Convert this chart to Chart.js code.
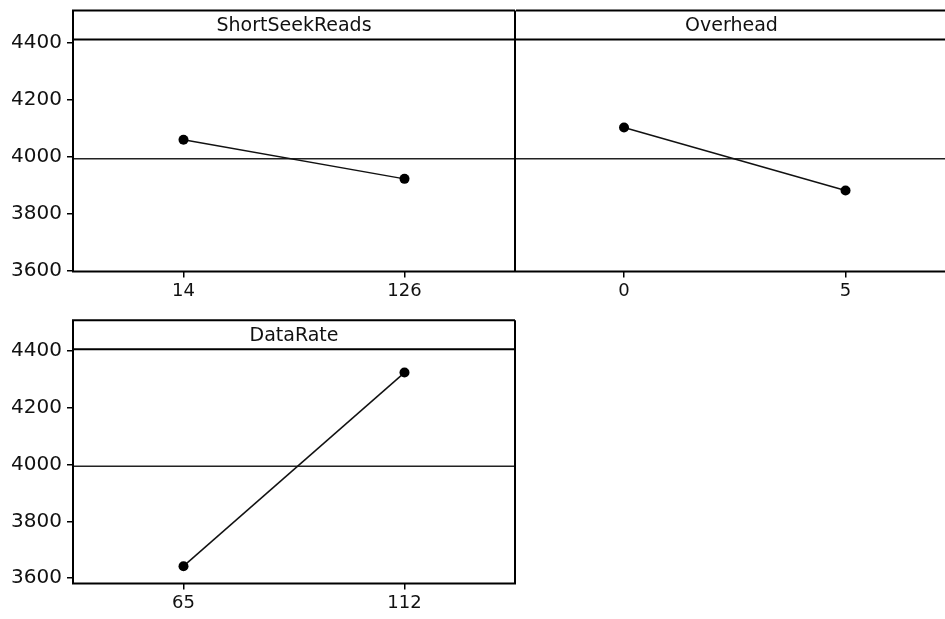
<!DOCTYPE html>
<html>
<head>
<meta charset="utf-8">
<script src="https://cdn.jsdelivr.net/npm/chart.js@4/dist/chart.umd.min.js"></script>
<style>
  body { margin: 0; background: #fff; overflow: hidden; }
  #wrap { position: relative; width: 945px; height: 619px; overflow: hidden; }
  canvas { position: absolute; }
</style>
</head>
<body>
<div id="wrap">
  <canvas id="c1" width="520" height="310" style="left:0;top:0"></canvas>
  <canvas id="c2" width="445" height="310" style="left:510px;top:0"></canvas>
  <canvas id="c3" width="520" height="329" style="left:0;top:290px"></canvas>
</div>
<script>
// Main effects data (means per factor level)
const shortSeekLevels = ['14', '126'];
const shortSeekMeans = [4060, 3923];
const overheadLevels = ['0', '5'];
const overheadMeans = [4103, 3882];
const dataRateLevels = ['65', '112'];
const dataRateMeans = [3642, 4324];
const grandMean = 3994;
const yTicks = [3600, 3800, 4000, 4200, 4400];

const fontFamily = '"DejaVu Sans", Verdana, sans-serif';
const headerH = 29;

// draws the panel box, the header strip and the factor name
const panelFrame = {
  id: 'panelFrame',
  afterDraw(chart) {
    const { ctx, chartArea } = chart;
    const { left, right, top, bottom } = chartArea;
    const opts = chart.options.plugins.panelFrame;
    ctx.save();
    ctx.strokeStyle = '#000';
    ctx.lineWidth = 2;
    ctx.beginPath();
    ctx.moveTo(right, top - headerH);
    ctx.lineTo(left, top - headerH);
    if (opts.leftEdge) ctx.lineTo(left, bottom);
    else ctx.moveTo(left, bottom);
    ctx.lineTo(right, bottom);
    ctx.lineTo(right, top - headerH);
    ctx.moveTo(left, top);
    ctx.lineTo(right, top);
    ctx.stroke();
    ctx.fillStyle = '#111';
    ctx.font = '19px ' + fontFamily;
    ctx.textAlign = 'center';
    ctx.textBaseline = 'middle';
    ctx.fillText(opts.title, (left + right) / 2, top - headerH / 2 + 1);
    ctx.restore();
  }
};

function makePanel(id, title, levels, means, o) {
  const ctx = document.getElementById(id).getContext('2d');
  return new Chart(ctx, {
    type: 'line',
    data: {
      datasets: [
        {
          data: means.map((v, i) => ({ x: i, y: v })),
          borderColor: '#111',
          borderWidth: 1.5,
          pointRadius: 5,
          pointBackgroundColor: '#000',
          pointBorderColor: '#000',
          pointBorderWidth: 0,
        },
        {
          // reference line at the overall mean
          data: [{ x: o.xMin, y: grandMean }, { x: o.xMax, y: grandMean }],
          borderColor: '#222',
          borderWidth: 1.5,
          pointRadius: 0,
        },
      ],
    },
    options: {
      responsive: false,
      animation: false,
      layout: { padding: o.padding },
      plugins: {
        legend: { display: false },
        tooltip: { enabled: false },
        panelFrame: { title: title, leftEdge: o.showY },
      },
      scales: {
        x: {
          type: 'linear',
          min: o.xMin,
          max: o.xMax,
          afterBuildTicks: (s) => { s.ticks = levels.map((l, i) => ({ value: i })); },
          afterFit: (s) => { s.height = o.xAxisH; },
          border: { display: false },
          grid: { drawOnChartArea: false, drawTicks: true, tickLength: 6, color: '#000', lineWidth: 1.5 },
          ticks: {
            callback: (v) => levels[v],
            color: '#111',
            font: { family: fontFamily, size: 18 },
            padding: 3,
            maxRotation: 0,
          },
        },
        y: {
          display: o.showY,
          min: o.yMin,
          max: o.yMax,
          afterBuildTicks: (s) => { s.ticks = yTicks.map((v) => ({ value: v })); },
          afterFit: (s) => { s.width = o.showY ? 73 : 0; },
          border: { display: false },
          grid: { drawOnChartArea: false, drawTicks: true, tickLength: 6, color: '#000', lineWidth: 1.5 },
          ticks: {
            callback: (v) => String(v),
            color: '#111',
            font: { family: fontFamily, size: 20 },
            padding: 5,
          },
        },
      },
    },
    plugins: [panelFrame],
  });
}

makePanel('c1', 'ShortSeekReads', shortSeekLevels, shortSeekMeans, {
  xMin: -0.5, xMax: 1.5, yMin: 3598, yMax: 4412, showY: true, xAxisH: 38.5,
  padding: { top: 39.5, right: 4, left: 0, bottom: 0 },
});

makePanel('c2', 'Overhead', overheadLevels, overheadMeans, {
  xMin: -0.4876, xMax: 1.458, yMin: 3598, yMax: 4412, showY: false, xAxisH: 38.5,
  padding: { top: 39.5, right: 8, left: 6, bottom: 0 },
});

makePanel('c3', 'DataRate', dataRateLevels, dataRateMeans, {
  xMin: -0.5, xMax: 1.5, yMin: 3581, yMax: 4406, showY: true, xAxisH: 35.5,
  padding: { top: 59.3, right: 4, left: 0, bottom: 0 },
});
</script>
</body>
</html>
